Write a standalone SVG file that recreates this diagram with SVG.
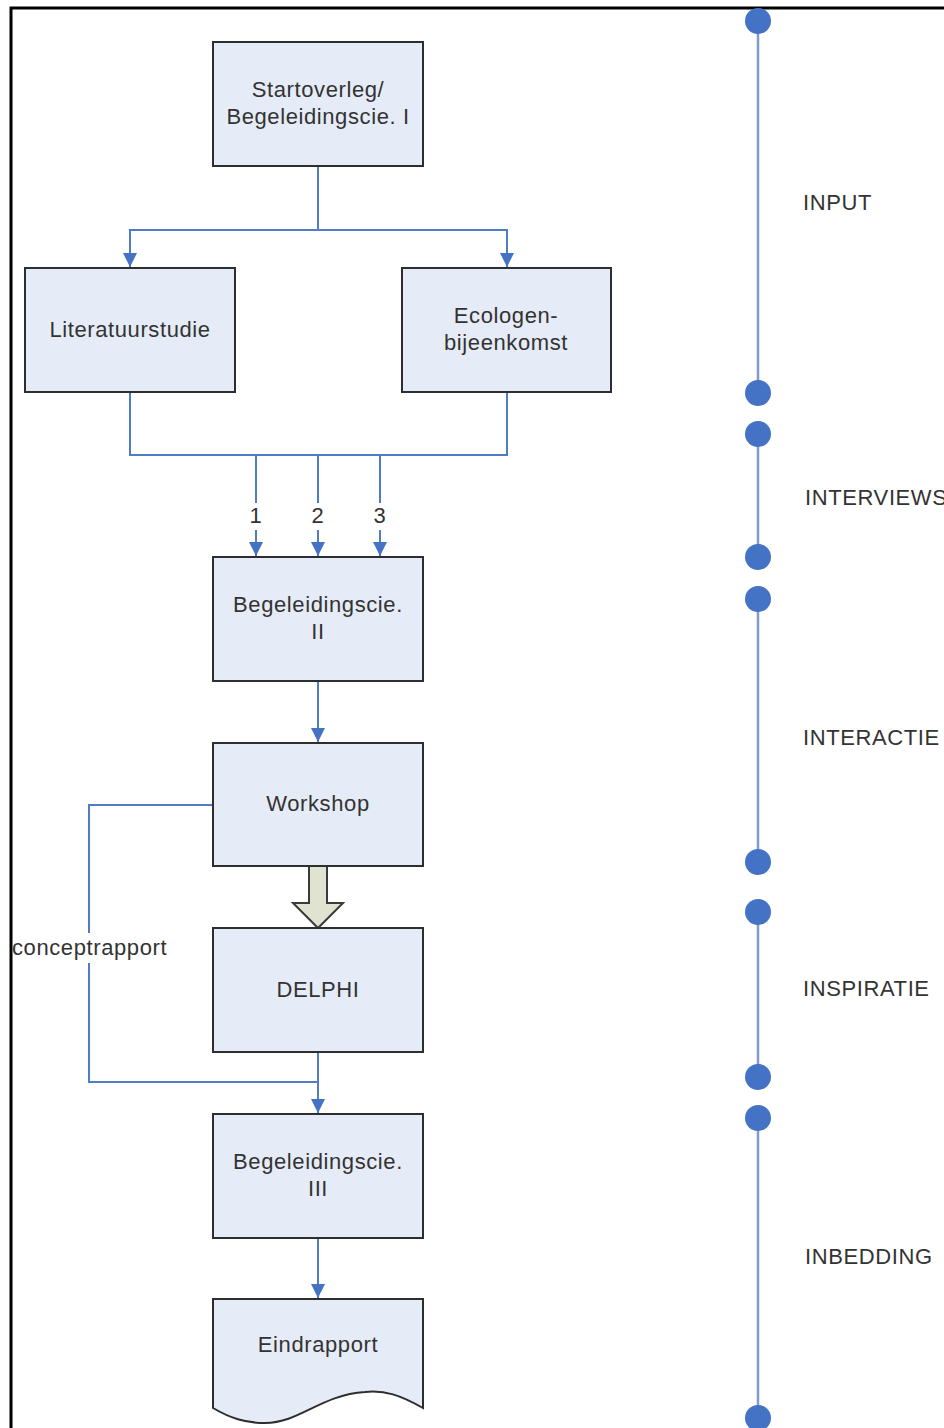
<svg xmlns="http://www.w3.org/2000/svg" width="944" height="1428" viewBox="0 0 944 1428">
<defs>
<style>
.box{fill:#e6ecf7;stroke:#2e2e2e;stroke-width:2}
.t{font-family:"Liberation Sans",Arial,sans-serif;font-size:22px;letter-spacing:0.6px;fill:#333;text-anchor:middle}
.tl{font-family:"Liberation Sans",Arial,sans-serif;font-size:22px;letter-spacing:0.6px;fill:#333}
.c{fill:none;stroke:#4f7cc4;stroke-width:2}
.tline{stroke:#7f9cc9;stroke-width:2.5}
.dot{fill:#4472c4}
</style>
<marker id="ah" markerWidth="14" markerHeight="14" viewBox="0 0 14 14" refX="14" refY="7" orient="auto" markerUnits="userSpaceOnUse">
<path d="M0,0 L14,7 L0,14 Z" fill="#4472c4"/>
</marker>
</defs>
<rect width="944" height="1428" fill="#fff"/>
<path d="M11,1428 V8 H944" fill="none" stroke="#000" stroke-width="3"/>

<g id="connectors">
<path class="c" d="M318,166 V230 H130 V267" marker-end="url(#ah)"/>
<path class="c" d="M318,230 H507 V267" marker-end="url(#ah)"/>
<path class="c" d="M130,392 V455 H507 V392"/>
<path class="c" d="M256,455 V503"/>
<path class="c" d="M318,455 V503"/>
<path class="c" d="M380,455 V503"/>
<path class="c" d="M256,530 V556" marker-end="url(#ah)"/>
<path class="c" d="M318,530 V556" marker-end="url(#ah)"/>
<path class="c" d="M380,530 V556" marker-end="url(#ah)"/>
<text class="t" x="256" y="523">1</text>
<text class="t" x="318" y="523">2</text>
<text class="t" x="380" y="523">3</text>
<path class="c" d="M318,681 V742" marker-end="url(#ah)"/>
<path class="c" d="M213,805 H89 V933"/>
<path class="c" d="M89,963 V1082 H318"/>
<path class="c" d="M318,1052 V1113" marker-end="url(#ah)"/>
<text class="tl" x="12" y="955">conceptrapport</text>
<path class="c" d="M318,1238 V1298" marker-end="url(#ah)"/>
<path d="M309,866 V903 H293 L318,928 L343,903 H327 V866 Z" fill="#dfe3cf" stroke="#3a3a3a" stroke-width="2"/>
</g>

<g id="n-start">
<rect class="box" x="213" y="42" width="210" height="124"/>
<text class="t" x="318" y="97">Startoverleg/</text>
<text class="t" x="318" y="124">Begeleidingscie. I</text>
</g>
<g id="n-lit">
<rect class="box" x="25" y="268" width="210" height="124"/>
<text class="t" x="130" y="337">Literatuurstudie</text>
</g>
<g id="n-eco">
<rect class="box" x="402" y="268" width="209" height="124"/>
<text class="t" x="506" y="323">Ecologen-</text>
<text class="t" x="506" y="350">bijeenkomst</text>
</g>
<g id="n-bII">
<rect class="box" x="213" y="557" width="210" height="124"/>
<text class="t" x="318" y="612">Begeleidingscie.</text>
<text class="t" x="318" y="639">II</text>
</g>
<g id="n-workshop">
<rect class="box" x="213" y="743" width="210" height="123"/>
<text class="t" x="318" y="811">Workshop</text>
</g>
<g id="n-delphi">
<rect class="box" x="213" y="928" width="210" height="124"/>
<text class="t" x="318" y="997">DELPHI</text>
</g>
<g id="n-bIII">
<rect class="box" x="213" y="1114" width="210" height="124"/>
<text class="t" x="318" y="1169">Begeleidingscie.</text>
<text class="t" x="318" y="1196">III</text>
</g>
<g id="n-eind">
<path class="box" d="M213,1299 H423 V1408 C400,1395 385,1390 365,1392 C320,1395 300,1423 265,1423 C245,1423 230,1418 213,1408 Z"/>
<text class="t" x="318" y="1352">Eindrapport</text>
</g>

<g id="timeline">
<line class="tline" x1="758" y1="21" x2="758" y2="393"/>
<line class="tline" x1="758" y1="434" x2="758" y2="557"/>
<line class="tline" x1="758" y1="599" x2="758" y2="862"/>
<line class="tline" x1="758" y1="912" x2="758" y2="1077"/>
<line class="tline" x1="758" y1="1118" x2="758" y2="1418"/>
<circle class="dot" cx="758" cy="21" r="13"/>
<circle class="dot" cx="758" cy="393" r="13"/>
<circle class="dot" cx="758" cy="434" r="13"/>
<circle class="dot" cx="758" cy="557" r="13"/>
<circle class="dot" cx="758" cy="599" r="13"/>
<circle class="dot" cx="758" cy="862" r="13"/>
<circle class="dot" cx="758" cy="912" r="13"/>
<circle class="dot" cx="758" cy="1077" r="13"/>
<circle class="dot" cx="758" cy="1118" r="13"/>
<circle class="dot" cx="758" cy="1418" r="13"/>
<text class="tl" x="803" y="210">INPUT</text>
<text class="tl" x="805" y="505">INTERVIEWS</text>
<text class="tl" x="803" y="745">INTERACTIE</text>
<text class="tl" x="803" y="996">INSPIRATIE</text>
<text class="tl" x="805" y="1264">INBEDDING</text>
</g>
</svg>
